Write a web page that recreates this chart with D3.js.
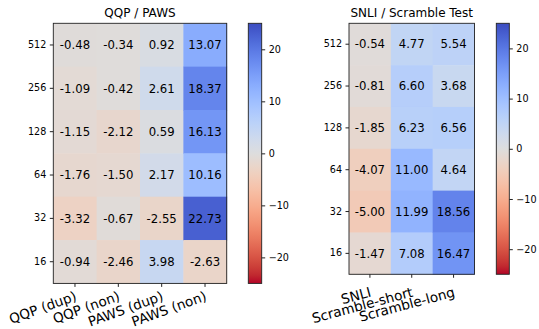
<!DOCTYPE html>
<html>
<head>
<meta charset="utf-8">
<script src="https://cdn.jsdelivr.net/npm/d3@7"></script>
<style>
  body { margin: 0; background: #fff; }
  svg text { font-family: "DejaVu Sans", sans-serif; fill: #000; }
</style>
</head>
<body>
<div id="chart"></div>
<script>
/** data **/
var rowLabels = ["512", "256", "128", "64", "32", "16"];

var qqpCols = ["QQP (dup)", "QQP (non)", "PAWS (dup)", "PAWS (non)"];
var qqpDup  = [-0.48, -1.09, -1.15, -1.76, -3.32, -0.94];
var qqpNon  = [-0.34, -0.42, -2.12, -1.50, -0.67, -2.46];
var pawsDup = [0.92, 2.61, 0.59, 2.17, -2.55, 3.98];
var pawsNon = [13.07, 18.37, 16.13, 10.16, 22.73, -2.63];

var snliCols = ["SNLI", "Scramble-short", "Scramble-long"];
var snli          = [-0.54, -0.81, -1.85, -4.07, -5.00, -1.47];
var scrambleShort = [4.77, 6.60, 6.23, 11.00, 11.99, 7.08];
var scrambleLong  = [5.54, 3.68, 6.56, 4.64, 18.56, 16.47];

var cbarTicks = [20, 10, 0, -10, -20];
var vmin = -25, vmax = 25;

/** coolwarm (reversed below: blue = high) **/
var coolwarmStops = [
  [59,76,192],[68,90,204],[77,104,215],[87,117,225],[98,130,234],[108,142,241],
  [119,154,247],[130,165,251],[141,176,254],[152,185,255],[163,194,255],[174,201,253],
  [184,208,249],[194,213,244],[204,217,238],[213,219,230],[221,221,221],[229,216,209],
  [236,211,197],[241,204,185],[245,196,173],[247,187,160],[247,177,148],[247,166,135],
  [244,154,123],[241,141,111],[236,127,99],[229,112,88],[222,96,77],[213,80,66],
  [203,62,56],[192,40,47],[180,4,38]
];
var cwScale = d3.scaleLinear()
    .domain(coolwarmStops.map(function(d, i) { return i / (coolwarmStops.length - 1); }))
    .range(coolwarmStops.map(function(d) { return d3.rgb(d[0], d[1], d[2]).toString(); }))
    .interpolate(d3.interpolateRgb)
    .clamp(true);
var tScale = d3.scaleLinear().domain([vmax, vmin]).range([0, 1]);
function color(v) { return cwScale(tScale(v)); }

var width = 539, height = 329;
var svg = d3.select("#chart").append("svg")
    .attr("width", width)
    .attr("height", height);

var defs = svg.append("defs");
var grad = defs.append("linearGradient")
    .attr("id", "cbarGrad")
    .attr("x1", 0).attr("y1", 0)
    .attr("x2", 0).attr("y2", 1);
grad.selectAll("stop")
    .data(d3.range(0, 1.0001, 1 / 64))
    .enter().append("stop")
    .attr("offset", function(d) { return d; })
    .attr("stop-color", function(d) { return cwScale(d); });

function drawPanel(p) {
    var g = svg.append("g");
    var nCols = p.cols.length, nRows = rowLabels.length;

    var x = d3.scaleBand().domain(p.cols).range([p.x0, p.x0 + p.cell * nCols]);
    var y = d3.scaleBand().domain(rowLabels).range([p.y0, p.y0 + p.cell * nRows]);

    // flatten
    var cells = [];
    p.series.forEach(function(s, c) {
        s.forEach(function(v, r) {
            cells.push({col: p.cols[c], row: rowLabels[r], value: v});
        });
    });

    g.selectAll(".cell")
        .data(cells)
        .enter().append("rect")
        .attr("class", "cell")
        .attr("x", function(d) { return x(d.col); })
        .attr("y", function(d) { return y(d.row); })
        .attr("width", x.bandwidth() + 0.5)
        .attr("height", y.bandwidth() + 0.5)
        .style("fill", function(d) { return color(d.value); });

    g.selectAll(".ann")
        .data(cells)
        .enter().append("text")
        .attr("class", "ann")
        .attr("x", function(d) { return x(d.col) + x.bandwidth() / 2; })
        .attr("y", function(d) { return y(d.row) + y.bandwidth() / 2; })
        .attr("dy", "0.36em")
        .attr("text-anchor", "middle")
        .style("font-size", "11.7px")
        .text(function(d) { return d.value.toFixed(2); });

    // frame
    g.append("rect")
        .attr("x", p.x0).attr("y", p.y0)
        .attr("width", p.cell * nCols).attr("height", p.cell * nRows)
        .style("fill", "none").style("stroke", "#222").style("stroke-width", 0.9);

    // y axis
    var yAxis = g.append("g")
        .attr("transform", "translate(" + p.x0 + ",0)")
        .call(d3.axisLeft(y).tickSize(3.5).tickPadding(3.5));
    yAxis.select(".domain").remove();
    yAxis.selectAll("text").style("font-size", "9.6px").style("font-family", "DejaVu Sans");
    yAxis.selectAll("line").style("stroke", "#222");

    // x axis, rotated labels
    var bottom = p.y0 + p.cell * nRows;
    var xAxis = g.append("g")
        .attr("transform", "translate(0," + bottom + ")")
        .call(d3.axisBottom(x).tickSize(3.5).tickFormat(""));
    xAxis.select(".domain").remove();
    xAxis.selectAll("line").style("stroke", "#222");

    g.selectAll(".xlab")
        .data(p.cols)
        .enter().append("text")
        .attr("class", "xlab")
        .attr("text-anchor", "end")
        .style("font-size", "13.6px")
        .attr("transform", function(d) {
            var lx = x(d) + x.bandwidth() / 2 + p.labelDx;
            var ly = bottom + p.labelDy;
            return "translate(" + lx + "," + ly + ") rotate(" + (-p.labelRot) + ")";
        })
        .text(function(d) { return d; });

    // title
    g.append("text")
        .attr("x", p.x0 + p.cell * nCols / 2)
        .attr("y", p.y0 - 6)
        .attr("text-anchor", "middle")
        .style("font-size", "12px")
        .text(p.title);

    // colorbar
    var cb = svg.append("g");
    var cy = d3.scaleLinear().domain([vmin, vmax]).range([bottom, p.y0]);
    cb.append("rect")
        .attr("x", p.cbx).attr("y", p.y0)
        .attr("width", p.cbw).attr("height", bottom - p.y0)
        .style("fill", "url(#cbarGrad)")
        .style("stroke", "#222").style("stroke-width", 0.9);
    var cAxis = cb.append("g")
        .attr("transform", "translate(" + (p.cbx + p.cbw) + ",0)")
        .call(d3.axisRight(cy).tickValues(cbarTicks).tickSize(3.5).tickPadding(3.5)
            .tickFormat(function(d) { return d < 0 ? "\u2212" + Math.abs(d) : d; }));
    cAxis.select(".domain").remove();
    cAxis.selectAll("text").style("font-size", "9.6px").style("font-family", "DejaVu Sans");
    cAxis.selectAll("line").style("stroke", "#222");
}

drawPanel({
    title: "QQP / PAWS",
    cols: qqpCols,
    series: [qqpDup, qqpNon, pawsDup, pawsNon],
    x0: 53.3, y0: 23.3, cell: 43.35,
    cbx: 248.3, cbw: 13.4,
    labelDx: 2.5, labelDy: 16.5, labelRot: 20
});

drawPanel({
    title: "SNLI / Scramble Test",
    cols: snliCols,
    series: [snli, scrambleShort, scrambleLong],
    x0: 349, y0: 23.3, cell: 41.83,
    cbx: 496.3, cbw: 13,
    labelDx: 2, labelDy: 22, labelRot: 15
});
</script>
</body>
</html>
